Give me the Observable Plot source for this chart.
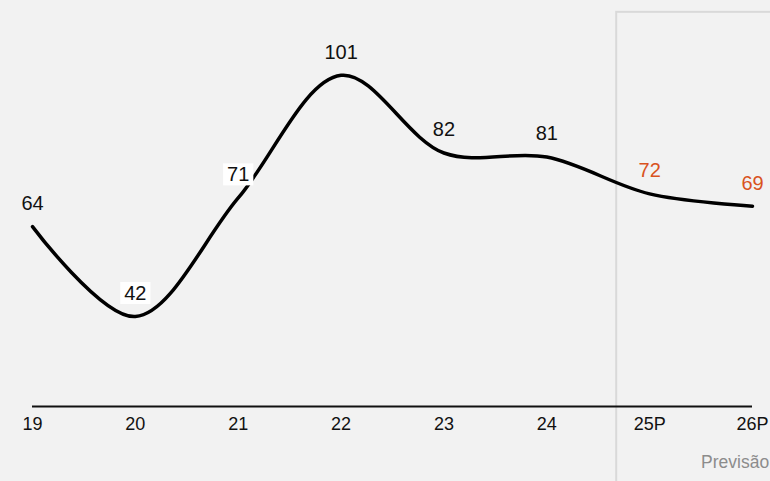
<!DOCTYPE html>
<html><head><meta charset="utf-8">
<script src="https://cdn.jsdelivr.net/npm/d3@7"></script>
<script src="https://cdn.jsdelivr.net/npm/@observablehq/plot@0.6"></script>
<style>
html,body{margin:0;padding:0;background:#f2f2f2;overflow:hidden;}
svg{font-family:"Liberation Sans",Arial,sans-serif;}
</style></head>
<body>
<script>
const years = ["19","20","21","22","23","24","25P","26P"];
const values = [64, 42, 71, 101, 82, 81, 72, 69];
const forecast = [false, false, false, false, false, false, true, true];
const boxedYears = ["20","21"];
const forecastLabel = "Previsão";
const forecastStart = 5.68;

const data = years.map((yr, i) => ({i, yr, v: values[i], f: forecast[i]}));

const chart = Plot.plot({
  width: 770, height: 481,
  marginLeft: 32, marginRight: 18, marginTop: 38, marginBottom: 75,
  style: {background: "#f2f2f2", fontFamily: "Liberation Sans, Arial, sans-serif", overflow: "hidden"},
  x: {domain: [0, years.length - 1], axis: null},
  y: {domain: [20, 110], axis: null},
  marks: [
    Plot.rect([{x1: forecastStart, x2: years.length + 0.5, y1: -20, y2: 116.4}],
      {x1: "x1", x2: "x2", y1: "y1", y2: "y2", fill: "none", stroke: "#d9d9d9", strokeWidth: 2}),
    Plot.ruleY([20], {x1: 0, x2: years.length - 1, stroke: "#111", strokeWidth: 2}),
    Plot.text(data, {x: "i", y: 20, text: "yr", dy: 18, fontSize: 18, fill: "#111"}),
    Plot.text([forecastLabel], {x: 6.5, y: 20, text: d => d, dy: 56, textAnchor: "start", fontSize: 17.5, fill: "#8c8c8c"}),
    Plot.line(data, {x: "i", y: "v", curve: "catmull-rom", stroke: "#000", strokeWidth: 3.5}),
    Plot.text(data, {x: "i", y: "v", text: d => String(d.v), dy: -23, fontSize: 20,
      fill: d => d.f ? "#d9531e" : "#111", className: "vlabel"})
  ]
});
document.body.append(chart);

d3.select(chart).selectAll(".vlabel text").each(function() {
  const t = this.textContent;
  const row = data.find(r => String(r.v) === t);
  if (row && boxedYears.includes(row.yr)) {
    const b = this.getBBox();
    const tr = this.getAttribute("transform");
    const r = document.createElementNS("http://www.w3.org/2000/svg", "rect");
    r.setAttribute("x", b.x - 4);
    r.setAttribute("y", b.y);
    r.setAttribute("width", b.width + 8);
    r.setAttribute("height", b.height);
    r.setAttribute("fill", "#fff");
    if (tr) r.setAttribute("transform", tr);
    this.parentNode.insertBefore(r, this);
  }
});
</script>
</body></html>
